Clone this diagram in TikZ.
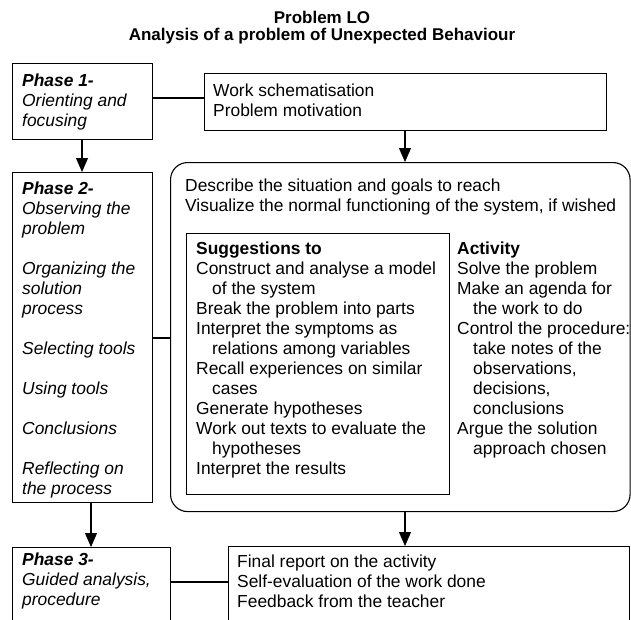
\documentclass[tikz,border=0pt]{standalone}
\usepackage{fontspec}
\setmainfont{Liberation Sans}
\usetikzlibrary{arrows.meta}
\begin{document}
\begin{tikzpicture}[x=1pt,y=-1pt,
  box/.style={draw, line width=1.1pt, inner sep=0pt, anchor=north west},
  txt/.style={anchor=north west, inner sep=0pt, align=left,
    font=\fontsize{17.4}{20}\selectfont},
  headline/.style={anchor=base, inner sep=0pt,
    font=\bfseries\fontsize{17}{20}\selectfont},
  link/.style={line width=1.1pt},
  flow/.style={line width=1.1pt, -{Triangle[length=14pt,width=12pt]}}]

\clip (0,0) rectangle (631,619);

% title
\node[headline] (t1) at (322,23.3) {Problem LO};
\node[headline] (t2) at (322,40.7) {Analysis of a problem of Unexpected Behaviour};

% frames
\node[box, minimum width=140pt, minimum height=76pt]  (p1)   at (12,63)  {};
\node[box, minimum width=402pt, minimum height=57pt]  (work) at (204,73) {};
\node[box, minimum width=140pt, minimum height=330pt] (p2)   at (12,172) {};
\node[box, rounded corners=17pt, minimum width=459.5pt, minimum height=349pt] (act) at (170,162) {};
\node[box, minimum width=263pt, minimum height=261pt] (sug)  at (186,233) {};
\node[box, minimum width=158pt, minimum height=100pt] (p3)   at (12,547) {};
\node[box, minimum width=401pt, minimum height=100pt] (fin)  at (228,546) {};

% texts
\node[txt, font=\itshape\fontsize{17.4}{20}\selectfont] (p1t) at (22,72.7)
  {\strut{\bfseries Phase 1-}\\Orienting and\\focusing};
\node[txt] (workt) at (213,82)
  {\strut Work schematisation\\Problem motivation};
\node[txt, font=\itshape\fontsize{17.4}{20}\selectfont] (p2t) at (22,180)
  {\strut{\bfseries Phase 2-}\\Observing the\\problem\\[20pt]
   Organizing the\\solution\\process\\[20pt]
   Selecting tools\\[20pt]
   Using tools\\[20pt]
   Conclusions\\[20pt]
   Reflecting on\\the process};
\node[txt] (desc) at (185,177)
  {\strut Describe the situation and goals to reach\\
   Visualize the normal functioning of the system, if wished};
\node[txt] (sugt) at (196,240.3)
  {\strut{\bfseries Suggestions to}\\
   Construct and analyse a model\\\hspace*{16pt}of the system\\
   Break the problem into parts\\
   Interpret the symptoms as\\\hspace*{16pt}relations among variables\\
   Recall experiences on similar\\\hspace*{16pt}cases\\
   Generate hypotheses\\
   Work out texts to evaluate the\\\hspace*{16pt}hypotheses\\
   Interpret the results};
\node[txt] (actt) at (457,240)
  {\strut{\bfseries Activity}\\
   Solve the problem\\
   Make an agenda for\\\hspace*{16pt}the work to do\\
   Control the procedure:\\
   \hspace*{16pt}take notes of the\\
   \hspace*{16pt}observations,\\
   \hspace*{16pt}decisions,\\
   \hspace*{16pt}conclusions\\
   Argue the solution\\\hspace*{16pt}approach chosen};
\node[txt, font=\itshape\fontsize{17.4}{20}\selectfont] (p3t) at (22,551.7)
  {\strut{\bfseries Phase 3-}\\Guided analysis,\\procedure};
\node[txt] (fint) at (237,553.5)
  {\strut Final report on the activity\\
   Self-evaluation of the work done\\
   Feedback from the teacher};

% connectors
\coordinate (y1) at (0,98);
\coordinate (y2) at (0,338);
\coordinate (y3) at (0,582);
\coordinate (x1) at (82,0);
\coordinate (x2) at (405,0);
\coordinate (x3) at (91,0);
\draw[link] (p1.east |- y1) -- (work.west |- y1);
\draw[link] (p2.east |- y2) -- (act.west |- y2);
\draw[link] (p3.east |- y3) -- (fin.west |- y3);
\draw[flow] (p1.south -| x1) -- (p2.north -| x1);
\draw[flow] (work.south -| x2) -- (act.north -| x2);
\draw[flow] (act.south -| x2) -- (fin.north -| x2);
\draw[flow] (p2.south -| x3) -- (p3.north -| x3);
\end{tikzpicture}
\end{document}
